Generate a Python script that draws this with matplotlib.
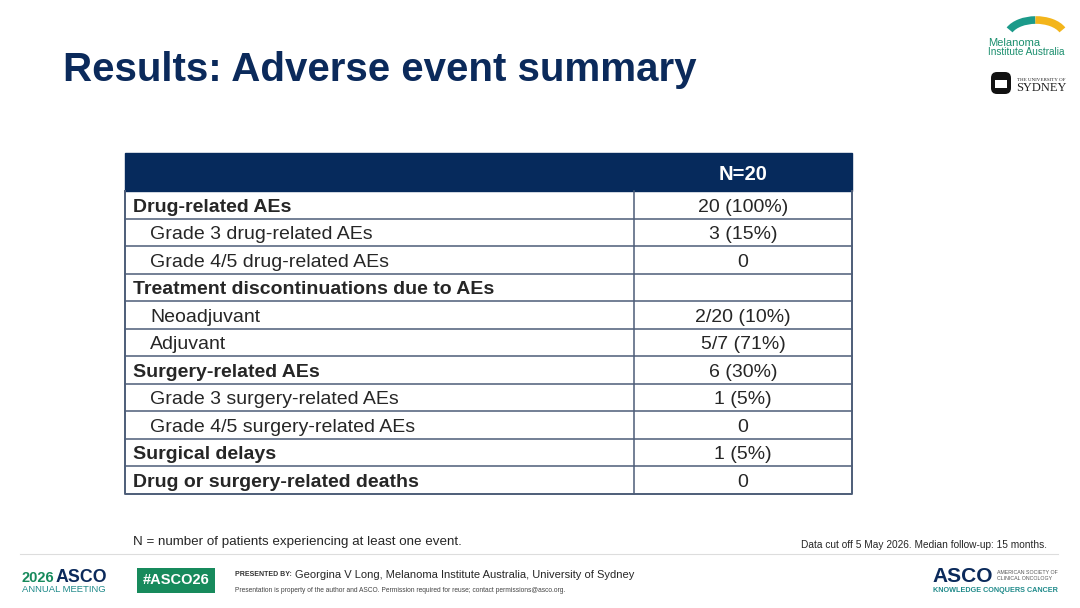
import matplotlib
matplotlib.use("Agg")
import matplotlib.pyplot as plt
from matplotlib.patches import Rectangle, Arc, FancyBboxPatch

plt.rcParams['font.family'] = ['Liberation Sans', 'DejaVu Sans']

# table content
row_labels = [
    "Drug-related AEs",
    "Grade 3 drug-related AEs",
    "Grade 4/5 drug-related AEs",
    "Treatment discontinuations due to AEs",
    "Neoadjuvant",
    "Adjuvant",
    "Surgery-related AEs",
    "Grade 3 surgery-related AEs",
    "Grade 4/5 surgery-related AEs",
    "Surgical delays",
    "Drug or surgery-related deaths",
]
row_values = ["20 (100%)", "3 (15%)", "0", "", "2/20 (10%)", "5/7 (71%)",
              "6 (30%)", "1 (5%)", "0", "1 (5%)", "0"]
row_bold = [True, False, False, True, False, False, True, False, False, True, True]
header_text = "N=20"

title = "Results: Adverse event summary"
footnote = "N = number of patients experiencing at least one event."
datacut = "Data cut off 5 May 2026. Median follow-up: 15 months."
presenter = "Georgina V Long, Melanoma Institute Australia, University of Sydney"
disclaimer = ("Presentation is property of the author and ASCO. Permission required for reuse; "
              "contact permissions@asco.org.")

NAVY = "#0b2a5b"
HEADER = "#062a5c"
GRID = "#4d5d78"
TEXT = "#262626"
TEAL = "#1f8a8a"
GREEN = "#178a5c"

fig = plt.figure(figsize=(10.8, 6.08), dpi=100)
ax = fig.add_axes([0, 0, 1, 1])
ax.set_xlim(0, 1080)
ax.set_ylim(608, 0)
ax.axis("off")

# title
ax.text(63, 70, title, fontsize=29, fontweight="bold", color=NAVY, va="center", ha="left")

# table geometry
x0, x1, xmid = 125, 852, 634
top, head_bot = 153, 191
row_h = 27.5
ax.add_patch(Rectangle((x0, top), x1 - x0, head_bot - top, facecolor=HEADER, edgecolor=HEADER, lw=1))
ax.text((xmid + x1) / 2, (top + head_bot) / 2 + 2, header_text, color="white",
        fontsize=14.5, fontweight="bold", ha="center", va="center")

n = len(row_labels)
bottom = head_bot + n * row_h
for i, (lab, val, b) in enumerate(zip(row_labels, row_values, row_bold)):
    y = head_bot + i * row_h
    yc = y + row_h / 2 + 2.5
    ax.text(133 if b else 150, yc, lab, fontsize=14, color=TEXT,
            fontweight="bold" if b else "normal", ha="left", va="center")
    ax.text((xmid + x1) / 2, yc, val, fontsize=14, color=TEXT, ha="center", va="center")
    if i > 0:
        ax.plot([x0, x1], [y, y], color=GRID, lw=1.1)
ax.plot([x0, x0, x1, x1], [head_bot, bottom, bottom, head_bot], color=GRID, lw=1.4)
ax.plot([xmid, xmid], [head_bot, bottom], color=GRID, lw=1.1)

# footnotes
ax.text(133, 542, footnote, fontsize=9.6, color=TEXT, ha="left", va="center")
ax.text(1047, 545, datacut, fontsize=7.3, color=TEXT, ha="right", va="center")
ax.plot([20, 1058], [554, 554], color="#dddddd", lw=0.8)

# bottom-left ASCO meeting logo
ax.text(22, 578, "2026", fontsize=10.5, color=GREEN, fontweight="bold", ha="left", va="center")
ax.text(56, 577, "ASCO", fontsize=12.8, color=NAVY, fontweight="bold", ha="left", va="center")
ax.text(22, 590, "ANNUAL MEETING", fontsize=6.8, color=TEAL, ha="left", va="center")
ax.add_patch(Rectangle((137, 568), 78, 25, facecolor=GREEN, edgecolor="none"))
ax.text(176, 580.5, "#ASCO26", fontsize=10.5, color="white", fontweight="bold", ha="center", va="center")

ax.text(235, 575, "PRESENTED BY:", fontsize=5, color="#333333", fontweight="bold", ha="left", va="center")
ax.text(295, 575, presenter, fontsize=8, color=TEXT, ha="left", va="center")
ax.text(235, 591, disclaimer, fontsize=4.8, color="#444444", ha="left", va="center")

# bottom-right ASCO logo
ax.text(932, 577, "ASCO", fontsize=15, color=NAVY, fontweight="bold", ha="left", va="center")
ax.text(997, 573, "AMERICAN SOCIETY OF", fontsize=3.8, color="#555555", ha="left", va="center")
ax.text(997, 579, "CLINICAL ONCOLOGY", fontsize=3.8, color="#555555", ha="left", va="center")
ax.text(933, 590, "KNOWLEDGE CONQUERS CANCER", fontsize=5.2, color=TEAL, fontweight="bold",
        ha="left", va="center")

# Melanoma Institute Australia logo (y axis is flipped, so angles are mirrored)
ax.add_patch(Arc((1036, 37), 58, 34, theta1=195, theta2=268, color="#1b9a8a", lw=5.5))
ax.add_patch(Arc((1036, 37), 58, 34, theta1=268, theta2=345, color="#f3b51b", lw=5.5))
ax.text(988, 43, "Melanoma", fontsize=8, color="#1b8f6e", ha="left", va="center")
ax.text(988, 52, "Institute Australia", fontsize=7.2, color="#1b8f6e", ha="left", va="center")

# University of Sydney logo
ax.add_patch(FancyBboxPatch((991, 72), 20, 22, boxstyle="round,pad=0,rounding_size=6",
                            facecolor="#111111", edgecolor="none"))
ax.add_patch(Rectangle((995, 80), 12, 8, facecolor="white", edgecolor="none"))
ax.text(1017, 80, "THE UNIVERSITY OF", fontsize=3.6, color="#222222", family="Liberation Serif",
        ha="left", va="center")
ax.text(1016, 88, "SYDNEY", fontsize=9, color="#222222", family="Liberation Serif",
        ha="left", va="center")

fig.savefig("out.png", dpi=100, facecolor="white")
